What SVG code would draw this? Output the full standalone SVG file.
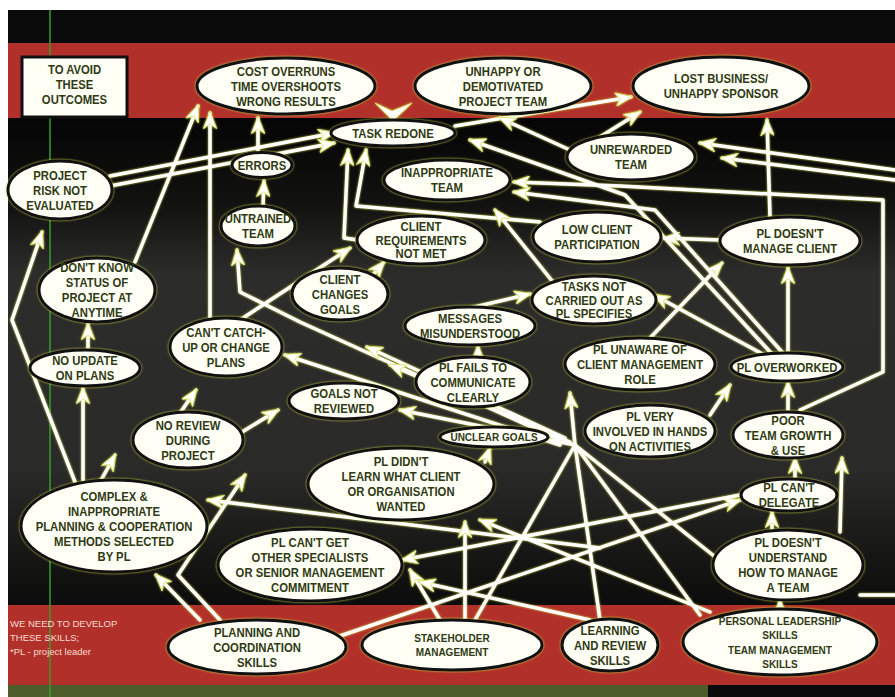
<svg xmlns="http://www.w3.org/2000/svg" width="895" height="697" viewBox="0 0 895 697">
<defs>
<linearGradient id="dark" x1="0" y1="118" x2="0" y2="605" gradientUnits="userSpaceOnUse">
<stop offset="0" stop-color="#050505"/>
<stop offset="0.18" stop-color="#121211"/>
<stop offset="0.32" stop-color="#2c2c2a"/>
<stop offset="0.72" stop-color="#2a2a28"/>
<stop offset="0.9" stop-color="#161615"/>
<stop offset="1" stop-color="#0c0c0c"/>
</linearGradient>
<marker id="ah" markerWidth="18" markerHeight="14" refX="16" refY="7" orient="auto" markerUnits="userSpaceOnUse">
<path d="M0,0 L18,7 L0,14 L5,7 z" fill="#ffffff" stroke="#d8e060" stroke-width="0.8"/>
</marker>
<style>
#connectors{filter:drop-shadow(0 0 0.8px #d6e04a)}
.c{fill:none;stroke:#ffffff;stroke-width:3.5;stroke-linejoin:round;stroke-linecap:round}
.a{marker-end:url(#ah)}
ellipse{fill:#fffff6;stroke:#111111;stroke-width:3;filter:drop-shadow(0 0 0.8px #d6e04a)}
.t{font-family:"Liberation Sans",Arial,sans-serif;font-weight:bold;font-size:13px;fill:#2f3a14;text-anchor:middle}
.s{font-size:11.5px}
.note{font-family:"Liberation Sans",Arial,sans-serif;font-size:9.5px;fill:#f6dccf}
</style>
</defs>
<g id="background">
<rect x="0" y="0" width="895" height="697" fill="#ffffff"/>
<rect x="8" y="10" width="887" height="33" fill="#0b0b0b"/>
<rect x="8" y="43" width="887" height="75" fill="#b2302a"/>
<rect x="8" y="118" width="887" height="487" fill="url(#dark)"/>
<rect x="8" y="605" width="887" height="80" fill="#b2302a"/>
<rect x="8" y="685" width="700" height="12" fill="#4d5c2b"/>
<rect x="708" y="685" width="187" height="12" fill="#0b0b0b"/>
<line x1="50" y1="10" x2="50" y2="697" stroke="#3c9a32" stroke-width="1.5"/>
</g>
<g id="connectors">
<path class="c a" d="M110,176 L334,133"/>
<path class="c a" d="M110,186 L334,143"/>
<path class="c a" d="M135,262 L198,106"/>
<path class="c a" d="M210,318 L210,113"/>
<path class="c a" d="M258,153 L258,118"/>
<path class="c a" d="M263,206 L264,181"/>
<path class="c a" d="M455,126 L631,97"/>
<path class="c a" d="M570,150 L500,118"/>
<path class="c a" d="M600,137 L640,112"/>
<path class="c a" d="M895,170 L700,143"/>
<path class="c a" d="M895,180 L722,158"/>
<path class="c a" d="M800,410 L883,372 L883,200 L620,186 L514,182"/>
<path class="c a" d="M770,217 L767,120"/>
<path class="c a" d="M720,240 L664,238"/>
<path class="c a" d="M650,338 L722,263"/>
<path class="c a" d="M788,352 L788,268"/>
<path class="c a" d="M772,354 L625,195 L470,140"/>
<path class="c a" d="M782,352 L655,210 L514,192"/>
<path class="c a" d="M770,358 L654,295"/>
<path class="c a" d="M540,222 L356,206 L366,150"/>
<path class="c a" d="M358,240 L344,238 L348,150"/>
<path class="c a" d="M553,282 L495,210"/>
<path class="c a" d="M240,320 L350,248"/>
<path class="c a" d="M372,276 L384,262"/>
<path class="c a" d="M470,308 L530,294"/>
<path class="c a" d="M478,358 L478,346"/>
<path class="c a" d="M560,440 L300,322 L240,292 L237,250"/>
<path class="c a" d="M75,482 L12,320 L42,232"/>
<path class="c a" d="M83,480 L83,388"/>
<path class="c a" d="M88,352 L88,324"/>
<path class="c a" d="M100,482 L115,455"/>
<path class="c a" d="M180,413 L196,390"/>
<path class="c a" d="M242,432 L278,410"/>
<path class="c a" d="M600,548 L208,500"/>
<path class="c a" d="M200,620 L156,575"/>
<path class="c a" d="M220,620 L178,575 L245,475"/>
<path class="c a" d="M340,636 L740,500"/>
<path class="c a" d="M465,620 L465,522"/>
<path class="c" d="M475,620 L575,445"/>
<path class="c a" d="M440,620 L410,570"/>
<path class="c" d="M600,620 L575,445"/>
<path class="c a" d="M590,620 L420,582"/>
<path class="c" d="M700,615 L575,445"/>
<path class="c a" d="M710,612 L480,520"/>
<path class="c a" d="M740,495 L402,560"/>
<path class="c" d="M575,445 L714,556"/>
<path class="c a" d="M772,532 L772,512"/>
<path class="c a" d="M840,532 L842,458"/>
<path class="c a" d="M795,480 L795,458"/>
<path class="c a" d="M788,412 L788,382"/>
<path class="c a" d="M710,415 L730,385"/>
<path class="c" d="M895,595 L860,595"/>
<path class="c a" d="M780,610 L780,600"/>
<path class="c a" d="M560,445 L285,355"/>
<path class="c a" d="M565,438 L367,347"/>
<path class="c a" d="M570,442 L390,365"/>
<path class="c a" d="M575,445 L400,410"/>
<path class="c a" d="M575,445 L570,393"/>
<path class="c a" d="M485,462 L490,448"/>
<polygon points="375,103 392,111 412,103 393,121" fill="#ffffff" stroke="#d8e060" stroke-width="0.8"/>
</g>
<g id="n-avoid"><rect x="22" y="57" width="105" height="60" fill="#fffff6" stroke="#111" stroke-width="3"/><g transform="translate(74.5,88) scale(0.87,1)"><text class="t"><tspan x="0" y="-14.5">TO AVOID</tspan><tspan x="0" y="0.5">THESE</tspan><tspan x="0" y="16">OUTCOMES</tspan></text></g></g>
<g id="n-cost"><ellipse cx="286" cy="86" rx="89" ry="28"/><g transform="translate(286,86) scale(0.87,1)"><text class="t"><tspan x="0" y="-10.4">COST OVERRUNS</tspan><tspan x="0" y="4.6">TIME OVERSHOOTS</tspan><tspan x="0" y="19.6">WRONG RESULTS</tspan></text></g></g>
<g id="n-unhappy"><ellipse cx="503" cy="86" rx="88" ry="28"/><g transform="translate(503,86) scale(0.87,1)"><text class="t"><tspan x="0" y="-10.4">UNHAPPY OR</tspan><tspan x="0" y="4.6">DEMOTIVATED</tspan><tspan x="0" y="19.6">PROJECT TEAM</tspan></text></g></g>
<g id="n-lost"><ellipse cx="721" cy="86" rx="88" ry="29"/><g transform="translate(721,86) scale(0.87,1)"><text class="t"><tspan x="0" y="-2.9">LOST BUSINESS/</tspan><tspan x="0" y="12.1">UNHAPPY SPONSOR</tspan></text></g></g>
<g id="n-task"><ellipse cx="393" cy="133" rx="62" ry="13"/><g transform="translate(393,133) scale(0.87,1)"><text class="t"><tspan x="0" y="4.6">TASK REDONE</tspan></text></g></g>
<g id="n-errors"><ellipse cx="262" cy="165" rx="30" ry="12.5"/><g transform="translate(262,165) scale(0.87,1)"><text class="t"><tspan x="0" y="4.6">ERRORS</tspan></text></g></g>
<g id="n-unrewarded"><ellipse cx="631" cy="157" rx="64" ry="23"/><g transform="translate(631,157) scale(0.87,1)"><text class="t"><tspan x="0" y="-2.9">UNREWARDED</tspan><tspan x="0" y="12.1">TEAM</tspan></text></g></g>
<g id="n-risk"><ellipse cx="60" cy="190" rx="52" ry="29"/><g transform="translate(60,190) scale(0.87,1)"><text class="t"><tspan x="0" y="-10.4">PROJECT</tspan><tspan x="0" y="4.6">RISK NOT</tspan><tspan x="0" y="19.6">EVALUATED</tspan></text></g></g>
<g id="n-inapp"><ellipse cx="447" cy="180" rx="63" ry="20"/><g transform="translate(447,180) scale(0.87,1)"><text class="t"><tspan x="0" y="-2.9">INAPPROPRIATE</tspan><tspan x="0" y="12.1">TEAM</tspan></text></g></g>
<g id="n-untrained"><ellipse cx="258" cy="226" rx="37" ry="20"/><g transform="translate(258,226) scale(0.87,1)"><text class="t"><tspan x="0" y="-2.9">UNTRAINED</tspan><tspan x="0" y="12.1">TEAM</tspan></text></g></g>
<g id="n-clientreq"><ellipse cx="421" cy="240" rx="64" ry="24"/><g transform="translate(421,240) scale(0.87,1)"><text class="t"><tspan x="0" y="-9.5">CLIENT</tspan><tspan x="0" y="4.5">REQUIREMENTS</tspan><tspan x="0" y="18.5">NOT MET</tspan></text></g></g>
<g id="n-lowclient"><ellipse cx="597" cy="237" rx="64" ry="25"/><g transform="translate(597,237) scale(0.87,1)"><text class="t"><tspan x="0" y="-2.9">LOW CLIENT</tspan><tspan x="0" y="12.1">PARTICIPATION</tspan></text></g></g>
<g id="n-pldoesnt"><ellipse cx="790" cy="241" rx="70" ry="24"/><g transform="translate(790,241) scale(0.87,1)"><text class="t"><tspan x="0" y="-2.9">PL DOESN'T</tspan><tspan x="0" y="12.1">MANAGE CLIENT</tspan></text></g></g>
<g id="n-dontknow"><ellipse cx="97" cy="290" rx="58" ry="32"/><g transform="translate(97,290) scale(0.87,1)"><text class="t"><tspan x="0" y="-17.9">DON'T KNOW</tspan><tspan x="0" y="-2.9">STATUS OF</tspan><tspan x="0" y="12.1">PROJECT AT</tspan><tspan x="0" y="27.1">ANYTIME</tspan></text></g></g>
<g id="n-clientchg"><ellipse cx="340" cy="294" rx="48" ry="26"/><g transform="translate(340,294) scale(0.87,1)"><text class="t"><tspan x="0" y="-10.4">CLIENT</tspan><tspan x="0" y="4.6">CHANGES</tspan><tspan x="0" y="19.6">GOALS</tspan></text></g></g>
<g id="n-tasksnot"><ellipse cx="594" cy="300" rx="62" ry="24"/><g transform="translate(594,300) scale(0.87,1)"><text class="t"><tspan x="0" y="-9.5">TASKS NOT</tspan><tspan x="0" y="4.5">CARRIED OUT AS</tspan><tspan x="0" y="18.5">PL SPECIFIES</tspan></text></g></g>
<g id="n-messages"><ellipse cx="470" cy="326" rx="65" ry="19"/><g transform="translate(470,326) scale(0.87,1)"><text class="t"><tspan x="0" y="-2.9">MESSAGES</tspan><tspan x="0" y="12.1">MISUNDERSTOOD</tspan></text></g></g>
<g id="n-cantcatch"><ellipse cx="226" cy="347" rx="56" ry="29"/><g transform="translate(226,347) scale(0.87,1)"><text class="t"><tspan x="0" y="-10.4">CAN'T CATCH-</tspan><tspan x="0" y="4.6">UP OR CHANGE</tspan><tspan x="0" y="19.6">PLANS</tspan></text></g></g>
<g id="n-noupdate"><ellipse cx="85" cy="368" rx="55" ry="18"/><g transform="translate(85,368) scale(0.87,1)"><text class="t"><tspan x="0" y="-2.9">NO UPDATE</tspan><tspan x="0" y="12.1">ON PLANS</tspan></text></g></g>
<g id="n-unaware"><ellipse cx="640" cy="364" rx="75" ry="26"/><g transform="translate(640,364) scale(0.87,1)"><text class="t"><tspan x="0" y="-10.4">PL UNAWARE OF</tspan><tspan x="0" y="4.6">CLIENT MANAGEMENT</tspan><tspan x="0" y="19.6">ROLE</tspan></text></g></g>
<g id="n-overworked"><ellipse cx="787" cy="367" rx="56" ry="14"/><g transform="translate(787,367) scale(0.87,1)"><text class="t"><tspan x="0" y="4.6">PL OVERWORKED</tspan></text></g></g>
<g id="n-plfails"><ellipse cx="473" cy="382" rx="57" ry="25"/><g transform="translate(473,382) scale(0.87,1)"><text class="t"><tspan x="0" y="-10.4">PL FAILS TO</tspan><tspan x="0" y="4.6">COMMUNICATE</tspan><tspan x="0" y="19.6">CLEARLY</tspan></text></g></g>
<g id="n-goalsnot"><ellipse cx="344" cy="401" rx="55" ry="18"/><g transform="translate(344,401) scale(0.87,1)"><text class="t"><tspan x="0" y="-2.9">GOALS NOT</tspan><tspan x="0" y="12.1">REVIEWED</tspan></text></g></g>
<g id="n-noreview"><ellipse cx="188" cy="440" rx="55" ry="28"/><g transform="translate(188,440) scale(0.87,1)"><text class="t"><tspan x="0" y="-10.4">NO REVIEW</tspan><tspan x="0" y="4.6">DURING</tspan><tspan x="0" y="19.6">PROJECT</tspan></text></g></g>
<g id="n-veryinv"><ellipse cx="650" cy="431" rx="65" ry="26"/><g transform="translate(650,431) scale(0.87,1)"><text class="t"><tspan x="0" y="-10.4">PL VERY</tspan><tspan x="0" y="4.6">INVOLVED IN HANDS</tspan><tspan x="0" y="19.6">ON ACTIVITIES</tspan></text></g></g>
<g id="n-poor"><ellipse cx="788" cy="435" rx="55" ry="23"/><g transform="translate(788,435) scale(0.87,1)"><text class="t"><tspan x="0" y="-10.4">POOR</tspan><tspan x="0" y="4.6">TEAM GROWTH</tspan><tspan x="0" y="19.6">&amp; USE</tspan></text></g></g>
<g id="n-unclear"><ellipse cx="494" cy="437" rx="54" ry="10"/><g transform="translate(494,437) scale(0.87,1)"><text class="t s"><tspan x="0" y="4">UNCLEAR GOALS</tspan></text></g></g>
<g id="n-didnt"><ellipse cx="401" cy="484" rx="93" ry="36"/><g transform="translate(401,484) scale(0.87,1)"><text class="t"><tspan x="0" y="-17.9">PL DIDN'T</tspan><tspan x="0" y="-2.9">LEARN WHAT CLIENT</tspan><tspan x="0" y="12.1">OR ORGANISATION</tspan><tspan x="0" y="27.1">WANTED</tspan></text></g></g>
<g id="n-delegate"><ellipse cx="789" cy="495" rx="48" ry="16"/><g transform="translate(789,495) scale(0.87,1)"><text class="t"><tspan x="0" y="-2.9">PL CAN'T</tspan><tspan x="0" y="12.1">DELEGATE</tspan></text></g></g>
<g id="n-complex"><ellipse cx="114" cy="526" rx="93" ry="46"/><g transform="translate(114,526) scale(0.87,1)"><text class="t"><tspan x="0" y="-25.4">COMPLEX &amp;</tspan><tspan x="0" y="-10.4">INAPPROPRIATE</tspan><tspan x="0" y="4.6">PLANNING &amp; COOPERATION</tspan><tspan x="0" y="19.6">METHODS SELECTED</tspan><tspan x="0" y="34.6">BY PL</tspan></text></g></g>
<g id="n-cantget"><ellipse cx="310" cy="565" rx="92" ry="36"/><g transform="translate(310,565) scale(0.87,1)"><text class="t"><tspan x="0" y="-17.9">PL CAN'T GET</tspan><tspan x="0" y="-2.9">OTHER SPECIALISTS</tspan><tspan x="0" y="12.1">OR SENIOR MANAGEMENT</tspan><tspan x="0" y="27.1">COMMITMENT</tspan></text></g></g>
<g id="n-understand"><ellipse cx="788" cy="565" rx="75" ry="35"/><g transform="translate(788,565) scale(0.87,1)"><text class="t"><tspan x="0" y="-17.9">PL DOESN'T</tspan><tspan x="0" y="-2.9">UNDERSTAND</tspan><tspan x="0" y="12.1">HOW TO MANAGE</tspan><tspan x="0" y="27.1">A TEAM</tspan></text></g></g>
<g id="n-planning"><ellipse cx="257" cy="647" rx="89" ry="27"/><g transform="translate(257,647) scale(0.87,1)"><text class="t"><tspan x="0" y="-10.4">PLANNING AND</tspan><tspan x="0" y="4.6">COORDINATION</tspan><tspan x="0" y="19.6">SKILLS</tspan></text></g></g>
<g id="n-stake"><ellipse cx="452" cy="645" rx="90" ry="25"/><g transform="translate(452,645) scale(0.87,1)"><text class="t s"><tspan x="0" y="-3">STAKEHOLDER</tspan><tspan x="0" y="11">MANAGEMENT</tspan></text></g></g>
<g id="n-learning"><ellipse cx="610" cy="645" rx="48" ry="26"/><g transform="translate(610,645) scale(0.87,1)"><text class="t"><tspan x="0" y="-10.4">LEARNING</tspan><tspan x="0" y="4.6">AND REVIEW</tspan><tspan x="0" y="19.6">SKILLS</tspan></text></g></g>
<g id="n-personal"><ellipse cx="780" cy="642" rx="97" ry="33"/><g transform="translate(780,642) scale(0.87,1)"><text class="t s"><tspan x="0" y="-17">PERSONAL LEADERSHIP</tspan><tspan x="0" y="-3">SKILLS</tspan><tspan x="0" y="12">TEAM MANAGEMENT</tspan><tspan x="0" y="26">SKILLS</tspan></text></g></g>
<g id="note"><text class="note"><tspan x="10" y="627">WE NEED TO DEVELOP</tspan><tspan x="10" y="641">THESE SKILLS;</tspan><tspan x="10" y="655">*PL - project leader</tspan></text></g>
</svg>
